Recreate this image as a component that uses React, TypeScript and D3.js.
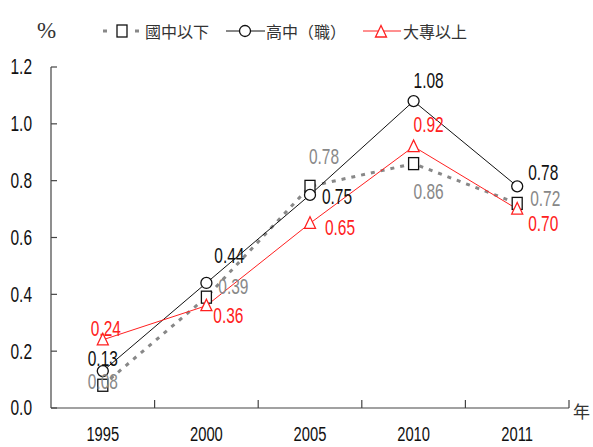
import React from "react";
import * as d3 from "d3";

const years = ["1995", "2000", "2005", "2010", "2011"];
const juniorLow = [0.08, 0.39, 0.78, 0.86, 0.72];
const senior = [0.13, 0.44, 0.75, 1.08, 0.78];
const college = [0.24, 0.36, 0.65, 0.92, 0.7];
const yTicks = [0, 0.2, 0.4, 0.6, 0.8, 1.0, 1.2];
const legendLabels = ["國中以下", "高中（職）", "大專以上"];

const W = 593, H = 447;
const left = 51, right = 569, top = 67, bottom = 408;
const numFont = "'Liberation Sans', Arial, sans-serif";
const cjkFont = "'Noto Sans CJK TC', sans-serif";

function NumText({ x, y, color, children, anchor = "middle", size = 21.5 }: any) {
  return (
    <g transform={`translate(${x},${y}) scale(0.72,1)`}>
      <text x={0} y={0} fill={color} fontFamily={numFont} fontSize={size} textAnchor={anchor} dominantBaseline="central">{children}</text>
    </g>
  );
}

export default function App() {
  const x = d3.scaleBand<string>().domain(years).range([left, right]);
  const y = d3.scaleLinear().domain([0, 1.2]).range([bottom, top]);
  const cx = (i: number) => (x(years[i]) as number) + x.bandwidth() / 2;
  const line = d3.line<number>().x((_, i) => cx(i)).y((d) => y(d));

  const gray = "#888888", red = "#ff2020";

  const grayOff = [[0, -4], [27, -11], [14, -30], [15, 28], [28, -5]];
  const blackOff = [[0, -13], [23, -27], [27, 2], [15, -21], [26, -14]];
  const redOff = [[3, -11], [22, 10], [30, 4], [15, -22], [26, 14]];

  const square = (px: number, py: number, k: string) => (
    <rect key={k} x={px - 5} y={py - 6} width={10} height={12} fill="white" stroke="#111" strokeWidth={1.3} />
  );
  const circle = (px: number, py: number, k: string) => (
    <circle key={k} cx={px} cy={py} r={5.5} fill="white" stroke="#111" strokeWidth={1.3} />
  );
  const tri = (px: number, py: number, k: string) => (
    <path key={k} d={`M${px},${py - 6.5}L${px + 5.5},${py + 5}L${px - 5.5},${py + 5}Z`} fill="white" stroke={red} strokeWidth={1.3} />
  );

  const labels = (vals: number[], off: number[][], color: string, key: string) =>
    vals.map((v, i) => (
      <NumText key={key + i} x={cx(i) + off[i][0]} y={y(v) + off[i][1]} color={color}>{v.toFixed(2)}</NumText>
    ));

  return (
    <svg width={W} height={H} style={{ position: "absolute", left: 0, top: 0, background: "white" }}>
      {/* legend */}
      <text x={37} y={38} fontFamily="'Liberation Serif', 'Times New Roman', serif" fontSize={23} fill="#333">%</text>
      <line x1={103} x2={140} y1={31} y2={31} stroke={gray} strokeWidth={3} strokeDasharray="4,28" />
      {square(122, 31, "ls")}
      <text x={145} y={31} fontFamily={cjkFont} fontSize={16} fill="#333" dominantBaseline="central">{legendLabels[0]}</text>
      <line x1={226} x2={265} y1={31} y2={31} stroke="#111" strokeWidth={1} />
      {circle(245, 31, "lc")}
      <text x={266} y={31} fontFamily={cjkFont} fontSize={16} fill="#333" dominantBaseline="central">{legendLabels[1]}</text>
      <line x1={363} x2={401} y1={31} y2={31} stroke={red} strokeWidth={1} />
      {tri(381, 32, "lt")}
      <text x={403} y={31} fontFamily={cjkFont} fontSize={16} fill="#333" dominantBaseline="central">{legendLabels[2]}</text>

      {/* y axis */}
      <line x1={left} x2={left} y1={top} y2={bottom} stroke="#444" strokeWidth={1.2} />
      {yTicks.map((t) => (
        <g key={"yt" + t}>
          <line x1={left} x2={left + 6} y1={y(t)} y2={y(t)} stroke="#444" strokeWidth={1.2} />
          <NumText x={32} y={y(t)} color="#111" anchor="end">{t.toFixed(1)}</NumText>
        </g>
      ))}
      {/* x axis */}
      <line x1={left} x2={right} y1={bottom} y2={bottom} stroke="#444" strokeWidth={1.2} />
      {years.map((yr, i) => (
        <g key={"xt" + yr}>
          <line x1={(x(yr) as number) + x.bandwidth()} x2={(x(yr) as number) + x.bandwidth()} y1={bottom} y2={bottom - 8} stroke="#444" strokeWidth={1.2} />
          <NumText x={cx(i)} y={434} color="#111" size={20.5}>{yr}</NumText>
        </g>
      ))}
      <text x={573} y={410} fontFamily={cjkFont} fontSize={17} fill="#333" dominantBaseline="central">年</text>

      {/* lines */}
      <path d={line(juniorLow) as string} fill="none" stroke={gray} strokeWidth={3} strokeDasharray="4,6" />
      <path d={line(senior) as string} fill="none" stroke="#111" strokeWidth={1} />
      <path d={line(college) as string} fill="none" stroke={red} strokeWidth={1} />

      {juniorLow.map((v, i) => square(cx(i), y(v), "s" + i))}
      {senior.map((v, i) => circle(cx(i), y(v), "c" + i))}
      {college.map((v, i) => tri(cx(i), y(v), "t" + i))}

      {labels(juniorLow, grayOff, gray, "g")}
      {labels(senior, blackOff, "#111", "b")}
      {labels(college, redOff, red, "r")}
    </svg>
  );
}
